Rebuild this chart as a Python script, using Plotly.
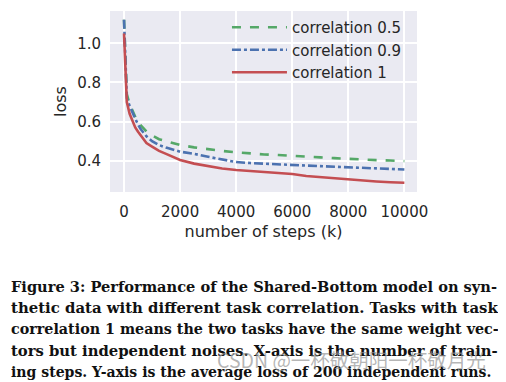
import plotly.graph_objects as go

steps = [0, 50, 100, 200, 300, 400, 500, 600, 800, 1000, 1250, 1500, 2000, 2500, 3000,
         3500, 4000, 4500, 5000, 5500, 6000, 6500, 7000, 7500, 8000, 8500, 9000, 9500, 10000]
corr_05 = [1.12, 0.90, 0.74, 0.69, 0.655, 0.625, 0.60, 0.58, 0.55, 0.53, 0.51, 0.50, 0.48, 0.468,
           0.458, 0.45, 0.443, 0.437, 0.432, 0.429, 0.426, 0.422, 0.417, 0.413, 0.409, 0.406,
           0.403, 0.401, 0.398]
corr_09 = [1.12, 0.89, 0.72, 0.68, 0.645, 0.615, 0.585, 0.56, 0.525, 0.50, 0.48, 0.467, 0.446,
           0.435, 0.42, 0.405, 0.393, 0.388, 0.384, 0.381, 0.378, 0.375, 0.372, 0.369, 0.366,
           0.363, 0.361, 0.358, 0.355]
corr_1 = [1.05, 0.85, 0.70, 0.64, 0.60, 0.57, 0.548, 0.53, 0.49, 0.472, 0.45, 0.435, 0.404, 0.385,
          0.372, 0.36, 0.352, 0.347, 0.342, 0.337, 0.332, 0.322, 0.316, 0.31, 0.305, 0.299,
          0.294, 0.29, 0.287]

series_names = ["correlation 0.5", "correlation 0.9", "correlation 1"]
x_ticks = [0, 2000, 4000, 6000, 8000, 10000]
x_tick_labels = ["0", "2000", "4000", "6000", "8000", "10000"]
y_ticks = [0.4, 0.6, 0.8, 1.0]
y_tick_labels = ["0.4", "0.6", "0.8", "1.0"]

caption_lines = [
    "Figure 3: Performance of the Shared-Bottom model on syn-",
    "thetic data with different task correlation. Tasks with task",
    "correlation 1 means the two tasks have the same weight vec-",
    "tors but independent noises. X-axis is the number of train-",
    "ing steps. Y-axis is the average loss of 200 independent runs.",
]
caption_sizes = [14.6, 14.9, 14.3, 14.8, 14.05]
watermark = "CSDN @一杯敬朝阳一杯敬月光"

TXT = "#262626"
OFF = 8  # page body margin compensation
W, H = 506 - OFF, 382 - OFF
L, T = 110 - OFF, 11 - OFF
R = W - (417 - OFF)
B = H - (192 - OFF)
PW, PH = W - L - R, H - T - B


def px(xp):
    return (xp - OFF - L) / PW


def py(yp):
    return 1 - (yp - OFF - T) / PH


fig = go.Figure()
styles = [("#55A868", "dash"), ("#4C72B0", "dashdot"), ("#C44E52", "solid")]
for name, ys, (col, dash) in zip(series_names, [corr_05, corr_09, corr_1], styles):
    fig.add_trace(go.Scatter(x=steps, y=ys, mode="lines", name=name,
                             line=dict(color=col, width=2.6, dash=dash)))

fig.update_layout(
    width=W, height=H,
    margin=dict(l=L, r=R, t=T, b=B),
    paper_bgcolor="white", plot_bgcolor="#EAEAF2",
    font=dict(family="DejaVu Sans", size=15, color=TXT),
    legend=dict(x=0.381, y=1.0, xanchor="left", yanchor="top",
                bgcolor="rgba(0,0,0,0)", font=dict(size=15, color=TXT),
                itemwidth=55, tracegroupgap=0),
    showlegend=True,
)
fig.update_xaxes(range=[-500, 10450], tickvals=x_ticks, ticktext=x_tick_labels, showgrid=True,
                 gridcolor="white", gridwidth=1.5, zeroline=False, showline=False, ticks="",
                 ticklabelstandoff=9, automargin=False, tickfont=dict(size=15),
                 title=dict(text="number of steps (k)", font=dict(size=16), standoff=5))
fig.update_yaxes(range=[0.24, 1.165], tickvals=y_ticks, ticktext=y_tick_labels, showgrid=True,
                 gridcolor="white", gridwidth=1.5, zeroline=False, showline=False, ticks="",
                 ticklabelstandoff=8, automargin=False, tickfont=dict(size=15),
                 title=dict(text="loss", font=dict(size=16), standoff=6))

for i, (line, sz) in enumerate(zip(caption_lines, caption_sizes)):
    fig.add_annotation(text="<b>" + line + "</b>", xref="paper", yref="paper",
                       x=px(9), y=py(286 + i * 21.6),
                       xanchor="left", yanchor="middle", showarrow=False,
                       font=dict(family="DejaVu Serif", size=sz, color="#111111"))

fig.add_annotation(text=watermark, xref="paper", yref="paper",
                   x=px(488), y=py(359),
                   xanchor="right", yanchor="middle", showarrow=False,
                   font=dict(family="Noto Sans CJK SC", size=19.5, color="rgba(150,150,150,0.7)"))

fig.write_html("out.html")
